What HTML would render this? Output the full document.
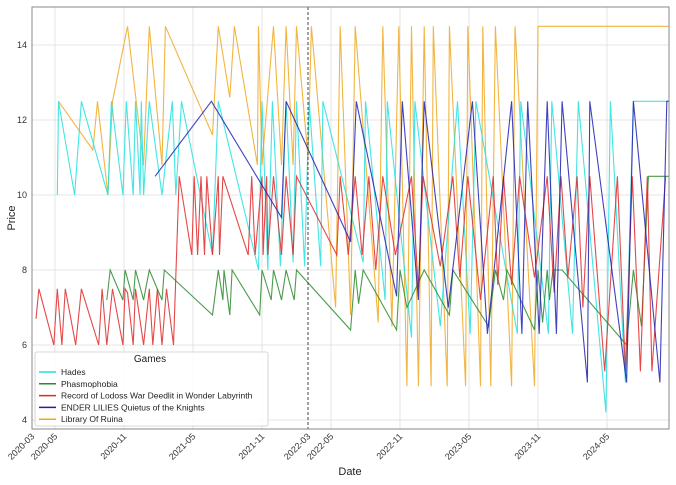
<!DOCTYPE html>
<html><head><meta charset="utf-8">
<style>
html,body{margin:0;padding:0;background:#fff;}
svg{display:block;font-family:"Liberation Sans",sans-serif;}
</style></head>
<body>
<svg id="chart" width="676" height="485" viewBox="0 0 676 485" xmlns="http://www.w3.org/2000/svg"></svg>
<script>
// months since 2020-03-01 and prices
const xTickLabels = ["2020-03","2020-05","2020-11","2021-05","2021-11","2022-03","2022-05","2022-11","2023-05","2023-11","2024-05"];
const xTickMonths = [0,2,8,14,20,24,26,32,38,44,50];
const yTicks = [4,6,8,10,12,14];
const seriesNames = ["Hades","Phasmophobia","Record of Lodoss War Deedlit in Wonder Labyrinth","ENDER LILIES Quietus of the Knights","Library Of Ruina"];
const hadesMonths = [2.2,2.3,3.7,4.3,6.6,6.9,7.9,8.2,8.8,9.0,9.4,9.5,9.7,10.2,11.3,12.2,12.5,13.0,15.7,16.2,19.7,20.0,20.5,20.9,21.6,22.1,22.7,23.0,23.7,24.1,25.1,25.3,28.8,29.0,30.7,30.9,33.0,33.3,35.5,37.0,38.1,38.6,42.2,42.5,44.9,45.2,47.0,47.5,49.9,50.3,51.6,52.3,55.4];
const hadesPrices = [10,12.5,10,12.5,10,12.5,10,12.5,10,12.5,10,12.5,10,12.5,10,12.5,10,12.5,8.4,12.5,8,12.5,8,12.5,8.1,12.5,8.2,12.5,8.1,12.5,8.1,12.5,8.2,12.5,7.2,12.5,6.2,12.5,6.5,12.5,6.3,12.5,6.3,12.5,6.3,12.5,6.3,12.5,4.2,12.5,5.0,12.5,12.5];
const phasMonths = [6.5,6.8,7.9,8.1,8.8,9.0,9.7,10.2,11.3,11.5,15.7,16.2,16.6,16.7,17.2,17.4,19.8,20.0,20.8,21.0,21.7,22.1,22.8,23.0,27.7,28.1,28.4,28.8,31.7,32.0,32.6,34.1,36.3,36.6,39.7,40.3,41.0,41.3,43.7,44.0,44.4,44.8,45.0,45.3,46.1,51.7,52.3,53.0,53.6,55.4];
const phasPrices = [7.2,8,7.2,8,7.2,8,7.2,8,7.2,8,6.8,8,7.2,8,6.8,8,6.8,8,7.2,8,7.2,8,7.2,8,6.4,8,7.1,8,6.4,8,7.0,8,6.8,8,6.5,8,7.2,8,6.4,8,6.6,8,7.2,8,8,6.0,8,6.5,10.5,10.5];
const lodossMonths = [0.35,0.6,1.9,2.2,2.6,2.9,3.8,4.3,5.8,6.1,6.5,7.0,7.9,8.1,8.3,8.8,9.0,9.7,10.2,10.5,10.9,11.3,11.7,12.3,12.8,13.9,14.1,14.4,14.7,15.0,15.2,15.7,16.2,16.3,16.6,18.8,19.1,19.4,20.0,20.1,20.4,20.5,21.0,21.7,22.1,22.7,23.0,26.5,26.8,27.5,28.1,28.7,29.3,29.9,30.5,31.6,33.0,33.6,34.0,35.5,36.6,37.2,37.9,39.0,40.1,40.5,41.0,41.7,42.4,43.7,44.8,45.4,46.0,46.6,47.4,47.9,48.5,49.8,50.9,51.6,52.2,52.9,53.5,53.9,55.1];
const lodossPrices = [6.7,7.5,6,7.5,6,7.5,6,7.5,6,7.5,6,7.5,6,7.5,7.4,6,7.5,6,7.5,6,7.5,6,7.5,6,10.5,8.4,10.5,8.4,10.5,8.4,10.5,8.4,10.5,8.4,10.5,8.4,10.5,8.4,10.5,8.4,10.5,8.4,10.5,8.4,10.5,8.4,10.5,8.4,10.5,8.4,10.5,8.4,10.5,8.0,10.5,8.4,10.5,7.5,10.5,8.1,10.5,7.8,10.5,7.2,10.5,7.6,10.5,7.6,10.5,7.8,10.5,7.4,10.5,7.8,10.5,7.0,10.5,5.3,10.5,5.3,10.5,5.3,10.5,5.3,10.5];
const enderMonths = [10.7,15.6,21.7,22.1,27.7,28.2,31.7,32.2,33.6,34.1,36.2,38.3,39.6,41.7,42.6,43.1,44.1,44.8,45.6,46.1,48.3,48.5,51.7,52.3,54.6,55.2,55.4];
const enderPrices = [10.5,12.5,9.4,12.5,8.75,12.5,7.3,12.5,7.2,12.5,7.0,12.5,6.3,12.5,6.3,12.5,6.3,12.5,6.3,12.5,5.0,12.5,5.0,12.5,5.0,12.5,12.5];
const ruinaMonths = [2.3,5.3,5.7,6.6,7.0,8.3,9.7,10.2,11.3,11.6,15.7,16.2,17.2,17.6,19.6,19.7,20.0,21.0,21.7,22.1,22.7,23.0,24.0,24.3,26.4,26.8,27.7,28.1,30.1,30.5,31.3,31.9,32.6,33.0,33.6,34.1,34.7,34.9,36.1,36.3,37.7,37.9,39.0,39.2,39.9,40.3,41.7,42.0,43.7,44.0,55.4];
const ruinaPrices = [12.5,11.2,12.5,10,12.5,14.5,10.8,14.5,10.8,14.5,11.6,14.5,12.6,14.5,10.8,14.5,10.8,14.5,10.8,14.5,10.8,14.5,11,14.5,7.0,14.5,6.8,14.5,6.6,14.5,6.5,14.5,4.9,14.5,4.9,14.5,4.9,14.5,4.9,14.5,4.9,14.5,4.9,14.5,4.9,14.5,4.9,14.5,4.9,14.5,14.5];

const svg = document.getElementById('chart');
const NS = 'http://www.w3.org/2000/svg';
const L=32,R=669,T=7,B=429;
const xs = m => L + m*11.5;
const ys = v => 420 - (v-4)*37.5;
function mk(tag, attrs, parent){const e=document.createElementNS(NS,tag);for(const k in attrs)e.setAttribute(k,attrs[k]);(parent||svg).appendChild(e);return e;}

// grid
yTicks.forEach(v=>{
  const g=mk('line',{x1:L,x2:R,y1:ys(v),y2:ys(v),stroke:'#ddd','stroke-width':0.8});
  
  
  const t=mk('text',{x:L-5,y:ys(v)+3,'text-anchor':'end','font-size':9,fill:'#333'});
  t.textContent=v;
  
  
});
xTickMonths.forEach((m,i)=>{
  const x=xs(m);
  if(m!==24){
    const g=mk('line',{x1:x,x2:x,y1:T,y2:B,stroke:'#ddd','stroke-width':0.8});
    
    
  }
  const t=mk('text',{x:x+3,y:B+8,'text-anchor':'end','font-size':9,fill:'#333',transform:`rotate(-45 ${x+3} ${B+8})`});
  t.textContent=xTickLabels[i];
  
  
});

const colors=['#22e0e0','#2a8a2a','#e02828','#2020b0','#f0a820'];
const mths=[hadesMonths,phasMonths,lodossMonths,enderMonths,ruinaMonths];
const prs=[hadesPrices,phasPrices,lodossPrices,enderPrices,ruinaPrices];
const sNames=['hades-line','phasmophobia-line','lodoss-line','ender-lilies-line','library-of-ruina-line'];
const drawOrder=[4,0,1,2,3];
drawOrder.forEach(i=>{
  const d=mths[i].map((m,j)=>(j?'L':'M')+xs(m).toFixed(1)+' '+ys(prs[i][j]).toFixed(1)).join(' ');
  const p=mk('path',{d:d,fill:'none',stroke:colors[i],'stroke-width':1.1,'stroke-opacity':0.85});
  
  
});

// dashed marker line
const dl=mk('line',{x1:xs(24),x2:xs(24),y1:T,y2:B,stroke:'#444','stroke-width':1,'stroke-dasharray':'3,2'});



// frame
const fr=mk('rect',{x:L,y:T,width:R-L,height:B-T,fill:'none',stroke:'#888','stroke-width':1});



// axis titles
const yl=mk('text',{x:15,y:218,'text-anchor':'middle','font-size':11,fill:'#222',transform:'rotate(-90 15 218)'});
yl.textContent='Price';


const xl=mk('text',{x:350,y:475,'text-anchor':'middle','font-size':11,fill:'#222'});
xl.textContent='Date';



// legend
const lg=mk('g',{});


mk('rect',{x:35,y:352,width:233,height:74,fill:'#fff','fill-opacity':0.85,stroke:'#ccc','stroke-width':0.8,rx:2},lg);
const lt=mk('text',{x:150,y:362,'text-anchor':'middle','font-size':10,fill:'#222'},lg);
lt.textContent='Games';


seriesNames.forEach((n,i)=>{
  const y=372+i*11.8;
  const e=mk('g',{},lg);
  
  
  mk('line',{x1:39,x2:56,y1:y,y2:y,stroke:colors[i],'stroke-width':1.5},e);
  const t=mk('text',{x:61,y:y+3,'font-size':8.5,fill:'#222'},e);
  t.textContent=n;
});
</script>
</body></html>
